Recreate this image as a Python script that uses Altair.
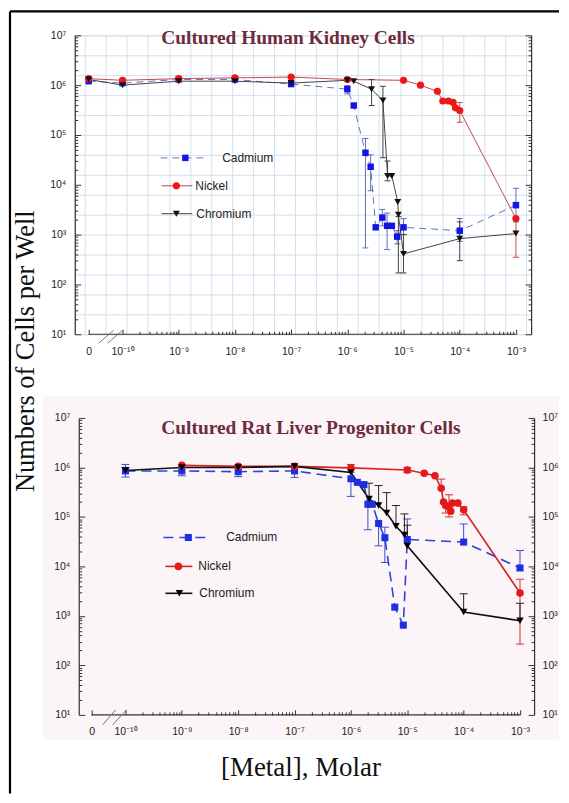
import altair as alt
import pandas as pd
import numpy as np

ZERO_POS = 2.5e-11  # plotting position of the "0" concentration

# ---------------- Top panel: Cultured Human Kidney Cells ----------------
kid_cd_x = [0, 1e-10, 1e-9, 1e-8, 1e-7, 1e-6, 1.3e-6, 2.1e-6, 2.6e-6, 3.2e-6, 4.2e-6, 5.1e-6, 6.2e-6, 7.7e-6, 1e-5, 1e-4, 1e-3]
kid_cd_y = [1.2e6, 1.1e6, 1.3e6, 1.3e6, 1.05e6, 8.3e5, 3.9e5, 4.4e4, 2.3e4, 1.4e3, 2.2e3, 1.5e3, 1.5e3, 9.1e2, 1.4e3, 1.2e3, 3.9e3]
kid_cd_lo = [None, None, None, None, None, 6.7e5, None, 5.4e2, 7.6e3, None, 1.5e3, 5.0e2, None, 6.5e2, 1.0e3, 7.3e2, 1.8e3]
kid_cd_hi = [None, None, None, None, None, 9.8e5, None, 8.5e4, 4.0e4, None, 3.2e3, 2.7e3, None, 1.2e3, 2.1e3, 2.1e3, 8.5e3]

kid_ni_x = [0, 1e-10, 1e-9, 1e-8, 1e-7, 1e-6, 1e-5, 2e-5, 4e-5, 5e-5, 6.3e-5, 7.6e-5, 8.4e-5, 1e-4, 1e-3]
kid_ni_y = [1.35e6, 1.25e6, 1.35e6, 1.4e6, 1.45e6, 1.3e6, 1.25e6, 1.0e6, 7.5e5, 4.8e5, 4.8e5, 4.5e5, 3.5e5, 3.1e5, 2.1e3]
kid_ni_lo = [None] * 13 + [1.8e5, 3.5e2]
kid_ni_hi = [None] * 13 + [4.5e5, 2.1e3]

kid_cr_x = [0, 1e-10, 1e-9, 1e-8, 1e-7, 1e-6, 1.3e-6, 2.7e-6, 4.3e-6, 5.2e-6, 6.2e-6, 7.9e-6, 8.1e-6, 1e-5, 1e-4, 1e-3]
kid_cr_y = [1.3e6, 1.0e6, 1.2e6, 1.2e6, 1.1e6, 1.25e6, 1.2e6, 8.3e5, 4.9e5, 1.5e4, 1.5e4, 4.5e3, 2.5e3, 4.1e2, 8.3e2, 1.05e3]
kid_cr_lo = [None] * 7 + [3.9e5, 3.5e4, 1.2e4, None, None, 1.7e2, 1.7e2, 3.0e2, None]
kid_cr_hi = [None] * 7 + [1.3e6, 9.5e5, 3.0e4, None, None, 2.3e3, 1.0e3, 1.8e3, None]

# ---------------- Bottom panel: Cultured Rat Liver Progenitor Cells ----------------
liv_cd_x = [1e-10, 1e-9, 1e-8, 1e-7, 1e-6, 1.3e-6, 1.7e-6, 2e-6, 2.4e-6, 3.1e-6, 4e-6, 6e-6, 8.5e-6, 1e-5, 1e-4, 1e-3]
liv_cd_y = [8.5e5, 8.5e5, 8.2e5, 8.5e5, 5.9e5, 5.0e5, 4.5e5, 1.8e5, 1.8e5, 7.4e4, 3.8e4, 1.5e3, 6.5e2, 3.5e4, 3.1e4, 9.3e3]
liv_cd_lo = [6.4e5, 6.8e5, 6.5e5, 6.3e5, 2.6e5, None, None, 5.5e4, None, 2.6e4, 1.2e4, None, None, None, None, None]
liv_cd_hi = [1.15e6, None, None, None, None, None, None, None, None, None, 6.2e4, None, None, 9.1e4, 7.2e4, 2.1e4]

liv_ni_x = [1e-9, 1e-8, 1e-7, 1e-6, 1e-5, 2e-5, 3.1e-5, 4e-5, 4.4e-5, 4.8e-5, 5.5e-5, 5.9e-5, 6.3e-5, 7.9e-5, 1e-4, 1e-3]
liv_ni_y = [1.1e6, 1.05e6, 1.05e6, 9.8e5, 8.9e5, 7.6e5, 6.8e5, 3.8e5, 2.0e5, 1.7e5, 1.6e5, 1.3e5, 1.9e5, 1.9e5, 1.4e5, 2.9e3]
liv_ni_lo = [None, None, None, 8.0e5, 7.8e5, None, None, None, None, 1.2e5, 1.0e5, None, None, None, 1.1e5, 2.7e2]
liv_ni_hi = [None, None, None, 1.15e6, 1.0e6, None, None, 5.8e5, None, None, 2.8e5, None, None, None, 1.6e5, 5.5e3]

liv_cr_x = [1e-10, 1e-9, 1e-8, 1e-7, 1e-6, 2.1e-6, 3.1e-6, 4.3e-6, 6.3e-6, 8.9e-6, 1e-5, 1e-4, 1e-3]
liv_cr_y = [8.7e5, 1.0e6, 1.0e6, 1.05e6, 7.9e5, 2.3e5, 1.7e5, 1.2e5, 6.5e4, 4.3e4, 2.6e4, 1.2e3, 8.0e2]
liv_cr_lo = [None] * 13
liv_cr_hi = [1.0e6, None, None, None, None, 4.8e5, 4.3e5, 3.1e5, 1.7e5, 1.15e5, 6.8e4, 2.8e3, 1.8e3]

SERIES = ["Cadmium", "Nickel", "Chromium"]
X_DECADES = [-10, -9, -8, -7, -6, -5, -4, -3]
Y_DECADES = [1, 2, 3, 4, 5, 6, 7]

SANS = "Liberation Sans"
SERIF = "Liberation Serif"
TITLE_COLOR = "#6e2b3b"
AX = "#333333"


def sup(n):
    return "10" + str(n).translate(str.maketrans("-0123456789", "⁻⁰¹²³⁴⁵⁶⁷⁸⁹"))


def label_expr(exps, zero=False):
    e = "round(log(datum.value)/LN10)"
    expr = "".join(f"{e} == {n} ? '{sup(n)}' : " for n in exps) + "''"
    if zero:
        expr = f"datum.value < 5e-11 ? '0' : ({expr})"
    return expr


def frame(xs, ys, los, his):
    rows = []
    for m, x, y, lo, hi in zip(SERIES, xs, ys, los, his):
        for c, v, l, h in zip(x, y, lo, hi):
            rows.append({"metal": m, "conc": c, "xp": c if c > 0 else ZERO_POS,
                         "cells": v, "lo": l, "hi": h})
    return pd.DataFrame(rows)


top_df = frame([kid_cd_x, kid_ni_x, kid_cr_x], [kid_cd_y, kid_ni_y, kid_cr_y],
               [kid_cd_lo, kid_ni_lo, kid_cr_lo], [kid_cd_hi, kid_ni_hi, kid_cr_hi])
bot_df = frame([liv_cd_x, liv_ni_x, liv_cr_x], [liv_cd_y, liv_ni_y, liv_cr_y],
               [liv_cd_lo, liv_ni_lo, liv_cr_lo], [liv_cd_hi, liv_ni_hi, liv_cr_hi])

TOP_STYLE = {
    "Cadmium": dict(line="#6072c8", width=1.0, dash=[7, 5], pt="#1414e6", shape="square", size=42, err="#5f6fb8"),
    "Nickel": dict(line="#c44a4a", width=1.0, dash=None, pt="#ee1616", shape="circle", size=52, err="#c45050"),
    "Chromium": dict(line="#444444", width=1.0, dash=None, pt="#111111", shape="triangle-down", size=48, err="#444444"),
}
BOT_STYLE = {
    "Cadmium": dict(line="#2d44d6", width=1.6, dash=[10, 6], pt="#1d2fe0", shape="square", size=50, err="#3a4fc8"),
    "Nickel": dict(line="#d42424", width=1.6, dash=None, pt="#e41a1a", shape="circle", size=58, err="#d03030"),
    "Chromium": dict(line="#111111", width=1.6, dash=None, pt="#000000", shape="triangle-down", size=55, err="#222222"),
}

dummy = pd.DataFrame({"x": [1e-5], "y": [1e3]})
CAP = "M-1,0L1,0"


def vtext(txt, x, y, size, font, color="#111", weight="normal", angle=0, align="center"):
    return alt.Chart(dummy).mark_text(
        text=txt, font=font, fontSize=size, fontWeight=weight, color=color,
        angle=angle, align=align, baseline="middle"
    ).encode(x=alt.value(x), y=alt.value(y))


def vrule(x, x2, y, y2, color, width=1.0, dash=None):
    kw = dict(color=color, strokeWidth=width)
    if dash:
        kw["strokeDash"] = dash
    return alt.Chart(dummy).mark_rule(**kw).encode(
        x=alt.value(x), x2=alt.value(x2), y=alt.value(y), y2=alt.value(y2))


def panel(df, style, W, H, xdom, left_off, right_labels, grid, legend_pos, cap_w, title, title_pos):
    xs = alt.Scale(type="log", domain=xdom, nice=False)
    ys = alt.Scale(type="log", domain=[10, 1e7], nice=False)
    layers = []

    def axis_layer(xaxis=None, yaxis=None):
        return alt.Chart(dummy).mark_point(opacity=0).encode(
            x=alt.X("x:Q", scale=xs, axis=xaxis),
            y=alt.Y("y:Q", scale=ys, axis=yaxis),
        )

    if grid:
        lo_log, hi_log = np.log10(xdom[0]), np.log10(xdom[1])
        gx = [10 ** v for v in np.arange(-9.174 - 0.374 * 4, hi_log, 0.374) if v > lo_log]
        gy = [10 ** v for v in np.arange(1.0, 7.01, 0.4)]
        g = dict(grid=True, gridColor="#d3e0ef", gridWidth=1, labels=False, ticks=False,
                 domain=False, title=None, zindex=0)
        layers.append(axis_layer(alt.Axis(values=gx, **g), alt.Axis(values=gy, **g)))

    xmaj = [ZERO_POS] + [10.0 ** e for e in X_DECADES]
    xmin = [k * 10.0 ** e for e in X_DECADES[:-1] for k in range(2, 10)]
    ymaj = [10.0 ** e for e in Y_DECADES]
    ymin = [k * 10.0 ** e for e in Y_DECADES[:-1] for k in range(2, 10)]
    lab = dict(labelFont=SANS, labelFontSize=10.5, labelColor="#222", title=None, grid=False, zindex=1)
    tk = dict(labels=False, domain=False, tickColor=AX, tickWidth=1, title=None, grid=False, zindex=1)

    # x labels
    layers.append(axis_layer(xaxis=alt.Axis(orient="bottom", values=xmaj, labelExpr=label_expr(X_DECADES, True),
                                            domain=False, ticks=False, tickSize=0, labelPadding=12, **lab)))
    # inward x ticks
    for vals, ts in ((xmaj, 5), (xmin, 3)):
        layers.append(axis_layer(xaxis=alt.Axis(orient="top", offset=-H, values=vals, tickSize=ts, **tk)))
    # left y labels + domain
    layers.append(axis_layer(yaxis=alt.Axis(orient="left", offset=-left_off, values=ymaj,
                                            labelExpr=label_expr(Y_DECADES), domain=True, domainColor=AX,
                                            domainWidth=1.2, ticks=False, tickSize=0, labelPadding=9, **lab)))
    # inward left y ticks
    for vals, ts in ((ymaj, 6), (ymin, 3)):
        layers.append(axis_layer(yaxis=alt.Axis(orient="right", offset=left_off - W, values=vals, tickSize=ts, **tk)))
    # right y axis
    if right_labels:
        layers.append(axis_layer(yaxis=alt.Axis(orient="right", values=ymaj, labelExpr=label_expr(Y_DECADES),
                                                domain=True, domainColor=AX, domainWidth=1.2, ticks=False,
                                                tickSize=0, labelPadding=8, **lab)))
    else:
        layers.append(axis_layer(yaxis=alt.Axis(orient="right", values=ymaj, labels=False, domain=True,
                                                domainColor=AX, domainWidth=1.2, ticks=False, title=None,
                                                grid=False, zindex=1)))
    for vals, ts in ((ymaj, 6), (ymin, 3)):
        layers.append(axis_layer(yaxis=alt.Axis(orient="left", offset=-W, values=vals, tickSize=ts, **tk)))

    # x axis line from "0" to 1e-3
    layers.append(alt.Chart(dummy).mark_rule(color=AX, strokeWidth=1.2).encode(
        x=alt.datum(ZERO_POS, scale=xs, axis=None), x2=alt.datum(1e-3),
        y=alt.datum(10, scale=ys, axis=None)))

    # data
    for m in SERIES:
        st = style[m]
        d = df[df.metal == m]
        e = d[d.lo.notna() | d.hi.notna()].copy()
        e["lo_f"] = e.lo.fillna(e.cells)
        e["hi_f"] = e.hi.fillna(e.cells)
        caps = pd.concat([d[d.lo.notna()].assign(cap=d.lo), d[d.hi.notna()].assign(cap=d.hi)])
        xenc = alt.X("xp:Q", scale=xs, axis=None)
        layers.append(alt.Chart(e).mark_rule(color=st["err"], strokeWidth=1).encode(
            x=xenc, y=alt.Y("lo_f:Q", scale=ys, axis=None), y2="hi_f:Q"))
        layers.append(alt.Chart(caps).mark_point(shape=CAP, size=cap_w ** 2, filled=False, color=st["err"],
                                                 strokeWidth=1, opacity=1).encode(
            x=xenc, y=alt.Y("cap:Q", scale=ys, axis=None)))
        lkw = dict(color=st["line"], strokeWidth=st["width"])
        if st["dash"]:
            lkw["strokeDash"] = st["dash"]
        layers.append(alt.Chart(d).mark_line(**lkw).encode(
            x=xenc, y=alt.Y("cells:Q", scale=ys, axis=None), order="xp:Q"))
    for m in SERIES:
        st = style[m]
        d = df[df.metal == m]
        layers.append(alt.Chart(d).mark_point(shape=st["shape"], size=st["size"], filled=True, color=st["pt"],
                                              opacity=1, strokeWidth=0.5).encode(
            x=alt.X("xp:Q", scale=xs, axis=None), y=alt.Y("cells:Q", scale=ys, axis=None)))

    # legend
    for m, (lx0, lx1, mx, ly, tx) in zip(SERIES, legend_pos):
        st = style[m]
        layers.append(vrule(lx0, lx1, ly, ly, st["line"], st["width"], st["dash"]))
        layers.append(alt.Chart(dummy).mark_point(shape=st["shape"], size=st["size"], filled=True,
                                                  color=st["pt"], opacity=1).encode(
            x=alt.value(mx), y=alt.value(ly)))
        layers.append(vtext(m, tx, ly, 12, SANS, "#222", align="left"))

    layers.append(vtext(title, title_pos[0], title_pos[1], 19.5, SERIF, TITLE_COLOR, weight="bold"))

    return layers


top_layers = panel(
    top_df, TOP_STYLE, 458, 300, [10 ** -10.85, 10 ** -2.73], 0, False, True,
    [(86, 133, 111, 123, 148), (87, 118, 102, 151, 121), (87, 118, 102, 179, 122)],
    6, "Cultured Human Kidney Cells", (214, 3))
# break marks, frame and shared y title (top panel coordinates)
top_layers += [
    vrule(24, 39, 309, 296, "#777", 1.0),
    vrule(33, 48, 309, 296, "#777", 1.0),
    vrule(-65, -65, -24, 761, "#000", 2.2),
    vrule(-65, 486, -24, -24, "#000", 2.2),
    vtext("Numbers of Cells per Well", -49, 317, 26.5, SERIF, "#111", angle=270),
]
top = alt.layer(*top_layers).resolve_axis(x="independent", y="independent").properties(width=458, height=300)

bot_layers = [alt.Chart(dummy).mark_rect(color="#fbf5f8").encode(
    x=alt.value(-32), x2=alt.value(486), y=alt.value(-22), y2=alt.value(323))]
bot_layers += panel(
    bot_df, BOT_STYLE, 461, 298, [10 ** -10.90, 10 ** -2.75], 4, True, False,
    [(89, 136, 114, 120, 152), (91, 118, 104, 149, 124), (91, 118, 105, 176, 125)],
    8, "Cultured Rat Liver Progenitor Cells", (237, 10))
bot_layers += [
    vrule(28, 41, 308, 293, "#777", 1.0),
    vrule(38, 52, 308, 293, "#777", 1.0),
    vtext("[Metal], Molar", 227, 351, 27, SERIF, "#111"),
]
bot = alt.layer(*bot_layers).resolve_axis(x="independent", y="independent").properties(width=461, height=298)

chart = alt.vconcat(top, bot, spacing=84, bounds="flush").properties(padding=0).configure_view(
    strokeWidth=0).configure(background="white")

chart.save("out.html", embed_options={"renderer": "svg", "actions": False})
